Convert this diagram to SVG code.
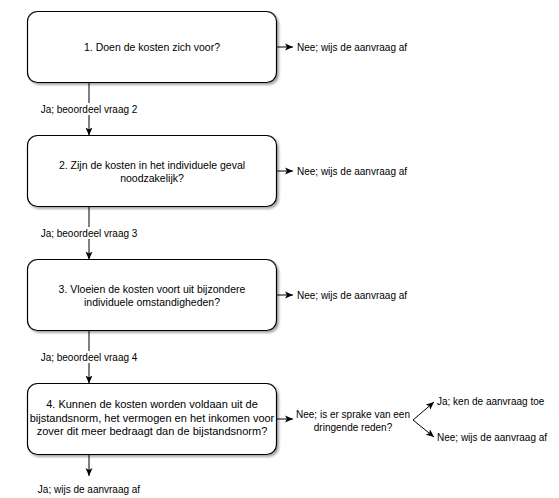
<svg xmlns="http://www.w3.org/2000/svg" width="559" height="498" viewBox="0 0 559 498">
<style>
.box{fill:#fff;stroke:#000;stroke-width:1.2;filter:url(#sh)}
.bt{font-family:"Liberation Sans",Arial,sans-serif;font-size:10.5px;fill:#000;text-anchor:middle;dominant-baseline:central}
.big{font-size:11px}
.lt{font-family:"Liberation Sans",Arial,sans-serif;font-size:10px;fill:#000;dominant-baseline:central}
.c{text-anchor:middle}
.ln{stroke:#000;stroke-width:1;fill:none;marker-end:url(#ah)}
.bg{fill:#fff}
</style>
<defs>
<filter id="sh" x="-5%" y="-5%" width="115%" height="120%">
<feDropShadow dx="2" dy="2" stdDeviation="0.8" flood-color="#000" flood-opacity="0.35"/>
</filter>
<marker id="ah" viewBox="0 0 8 8" refX="8" refY="4" markerWidth="8" markerHeight="8" orient="auto" markerUnits="userSpaceOnUse">
<path d="M0,0.5 L8,4 L0,7.5 L2,4 Z" fill="#000"/>
</marker>
</defs>
<g id="connectors">
<line class="ln" x1="89" y1="82.5" x2="89" y2="135.5"/>
<line class="ln" x1="89" y1="206.5" x2="89" y2="259.5"/>
<line class="ln" x1="89" y1="330.5" x2="89" y2="383.5"/>
<line class="ln" x1="89" y1="454.5" x2="89" y2="476"/>
<line class="ln" x1="276.5" y1="47" x2="293" y2="47"/>
<line class="ln" x1="276.5" y1="171" x2="293" y2="171"/>
<line class="ln" x1="276.5" y1="295" x2="293" y2="295"/>
<line class="ln" x1="276.5" y1="419" x2="293" y2="419"/>
<line class="ln" x1="413" y1="420" x2="434" y2="402"/>
<line class="ln" x1="413" y1="420" x2="434" y2="437"/>
<rect class="bg" x="39" y="103" width="100" height="12"/>
<text class="lt c" x="89" y="109">Ja; beoordeel vraag 2</text>
<rect class="bg" x="39" y="227" width="100" height="12"/>
<text class="lt c" x="89" y="233">Ja; beoordeel vraag 3</text>
<rect class="bg" x="39" y="351" width="100" height="12"/>
<text class="lt c" x="89" y="357">Ja; beoordeel vraag 4</text>
</g>
<g id="node1">
<rect class="box" x="27.5" y="11.5" width="249" height="71" rx="10"/>
<text class="bt" x="152" y="47">1. Doen de kosten zich voor?</text>
</g>
<g id="node2">
<rect class="box" x="27.5" y="135.5" width="249" height="71" rx="10"/>
<text class="bt" x="152" y="164.5">2. Zijn de kosten in het individuele geval</text>
<text class="bt" x="152" y="177.5">noodzakelijk?</text>
</g>
<g id="node3">
<rect class="box" x="27.5" y="259.5" width="249" height="71" rx="10"/>
<text class="bt" x="152" y="288.5">3. Vloeien de kosten voort uit bijzondere</text>
<text class="bt" x="152" y="301.5">individuele omstandigheden?</text>
</g>
<g id="node4">
<rect class="box" x="27.5" y="383.5" width="249" height="71" rx="10"/>
<text class="bt big" x="152" y="404">4. Kunnen de kosten worden voldaan uit de</text>
<text class="bt big" x="152" y="417.5">bijstandsnorm, het vermogen en het inkomen voor</text>
<text class="bt big" x="152" y="431">zover dit meer bedraagt dan de bijstandsnorm?</text>
</g>
<g id="end1"><text class="lt" x="297" y="47">Nee; wijs de aanvraag af</text></g>
<g id="end2"><text class="lt" x="297" y="171">Nee; wijs de aanvraag af</text></g>
<g id="end3"><text class="lt" x="297" y="295">Nee; wijs de aanvraag af</text></g>
<g id="question5">
<text class="lt c" x="353" y="414">Nee; is er sprake van een</text>
<text class="lt c" x="353" y="427">dringende reden?</text>
</g>
<g id="end5"><text class="lt" x="437" y="401">Ja; ken de aanvraag toe</text></g>
<g id="end6"><text class="lt" x="437" y="437">Nee; wijs de aanvraag af</text></g>
<g id="end4"><text class="lt c" x="89" y="489">Ja; wijs de aanvraag af</text></g>
</svg>
